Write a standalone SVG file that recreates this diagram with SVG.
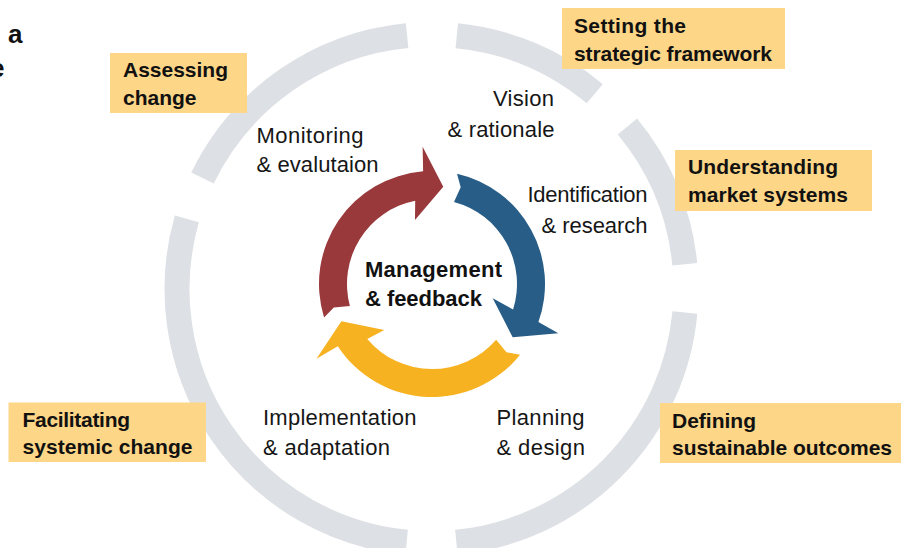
<svg xmlns="http://www.w3.org/2000/svg" width="901" height="548" viewBox="0 0 901 548">
  <style>
    .ring { fill: none; stroke: #dde0e4; stroke-width: 25; stroke-linecap: butt; }
    .box { fill: #fdd687; }
    .lbl { font-family: "Liberation Sans", Arial, sans-serif; font-size: 22px; fill: #161616; }
    .bold { font-family: "Liberation Sans", Arial, sans-serif; font-size: 21px; font-weight: bold; fill: #111111; }
    .center { font-family: "Liberation Sans", Arial, sans-serif; font-size: 22px; font-weight: bold; fill: #111111; }
    .title { font-family: "Liberation Sans", Arial, sans-serif; font-size: 26px; font-weight: bold; fill: #111111; }
  </style>
  <rect x="0" y="0" width="901" height="548" fill="#ffffff"/>

  <!-- cut-off title fragments -->
  <g id="title-fragment">
    <text class="title" x="8" y="43">a</text>
    <text class="title" x="-10" y="77">e</text>
  </g>

  <!-- outer ring segments -->
  <g id="outer-ring">
    <path class="ring" d="M202.47,178.04 A254.5,254.5 0 0 1 407.11,35.67"/>
    <path class="ring" d="M456.78,35.76 A254.5,254.5 0 0 1 594.75,93.76"/>
    <path class="ring" d="M627.41,126.55 A254.5,254.5 0 0 1 684.79,264.17"/>
    <path class="ring" d="M684.91,312.51 A254.5,254.5 0 0 1 456.33,542.29"/>
    <path class="ring" d="M406.67,542.29 A254.5,254.5 0 0 1 186.86,218.85"/>
  </g>

  <!-- cycle arrows -->
  <g id="connectors">
    <path id="arrow-red" fill="#9a393b" d="M324.05,317.41 A113,113 0 0 1 423.13,171.35 L422.64,146.72 L443.26,186.65 L414.98,220.02 L415.2,200.67 A85,85 0 0 0 349.9,306 L333.79,307.57 Z"/>
    <path id="arrow-blue" fill="#275d86" d="M457.04,173.81 A113,113 0 0 1 538.4,322.1 L558.3,333.3 L512.7,337.3 L492.7,298.3 L513.1,309.4 A85,85 0 0 0 454,201.9 L460.69,187.16 Z"/>
    <path id="arrow-yellow" fill="#f6b221" d="M520.06,354.81 A113,113 0 0 1 337.77,346.37 L316.47,358.74 L341.4,321.35 L384.3,329.9 L367.27,339.09 A85,85 0 0 0 496.15,339.77 L506.47,352.24 Z"/>
  </g>

  <!-- center -->
  <g id="node-management">
    <text class="center" x="365" y="277" textLength="137" lengthAdjust="spacing">Management</text>
    <text class="center" x="365" y="306" textLength="117" lengthAdjust="spacing">&amp; feedback</text>
  </g>

  <!-- inner stage labels -->
  <g id="node-vision">
    <text class="lbl" x="493" y="106" textLength="61" lengthAdjust="spacing">Vision</text>
    <text class="lbl" x="447.5" y="137" textLength="107" lengthAdjust="spacing">&amp; rationale</text>
  </g>
  <g id="node-identification">
    <text class="lbl" x="527.5" y="202" textLength="120" lengthAdjust="spacing">Identification</text>
    <text class="lbl" x="541.5" y="233" textLength="106" lengthAdjust="spacing">&amp; research</text>
  </g>
  <g id="node-planning">
    <text class="lbl" x="496.5" y="425" textLength="88" lengthAdjust="spacing">Planning</text>
    <text class="lbl" x="496.5" y="455" textLength="88.5" lengthAdjust="spacing">&amp; design</text>
  </g>
  <g id="node-implementation">
    <text class="lbl" x="263" y="424.5" textLength="153.5" lengthAdjust="spacing">Implementation</text>
    <text class="lbl" x="263" y="455" textLength="127" lengthAdjust="spacing">&amp; adaptation</text>
  </g>
  <g id="node-monitoring">
    <text class="lbl" x="256.5" y="143" textLength="107" lengthAdjust="spacing">Monitoring</text>
    <text class="lbl" x="256.5" y="172" textLength="122" lengthAdjust="spacing">&amp; evalutaion</text>
  </g>

  <!-- outer phase boxes -->
  <g id="node-assessing">
    <rect class="box" x="110" y="53" width="137" height="60"/>
    <text class="bold" x="123" y="77" textLength="105" lengthAdjust="spacing">Assessing</text>
    <text class="bold" x="123" y="105" textLength="73.5" lengthAdjust="spacing">change</text>
  </g>
  <g id="node-setting">
    <rect class="box" x="562" y="8" width="223" height="61"/>
    <text class="bold" x="574" y="33" textLength="112" lengthAdjust="spacing">Setting the</text>
    <text class="bold" x="574" y="61" textLength="198" lengthAdjust="spacing">strategic framework</text>
  </g>
  <g id="node-understanding">
    <rect class="box" x="675" y="150" width="197" height="61"/>
    <text class="bold" x="688" y="174" textLength="150" lengthAdjust="spacing">Understanding</text>
    <text class="bold" x="688" y="202" textLength="160" lengthAdjust="spacing">market systems</text>
  </g>
  <g id="node-defining">
    <rect class="box" x="660" y="403" width="241" height="60"/>
    <text class="bold" x="672" y="427.5" textLength="84" lengthAdjust="spacing">Defining</text>
    <text class="bold" x="672" y="455" textLength="220" lengthAdjust="spacing">sustainable outcomes</text>
  </g>
  <g id="node-facilitating">
    <rect class="box" x="8.5" y="402.5" width="197.5" height="59.5"/>
    <text class="bold" x="22.5" y="427" textLength="107.5" lengthAdjust="spacing">Facilitating</text>
    <text class="bold" x="22.5" y="454" textLength="170" lengthAdjust="spacing">systemic change</text>
  </g>
</svg>
